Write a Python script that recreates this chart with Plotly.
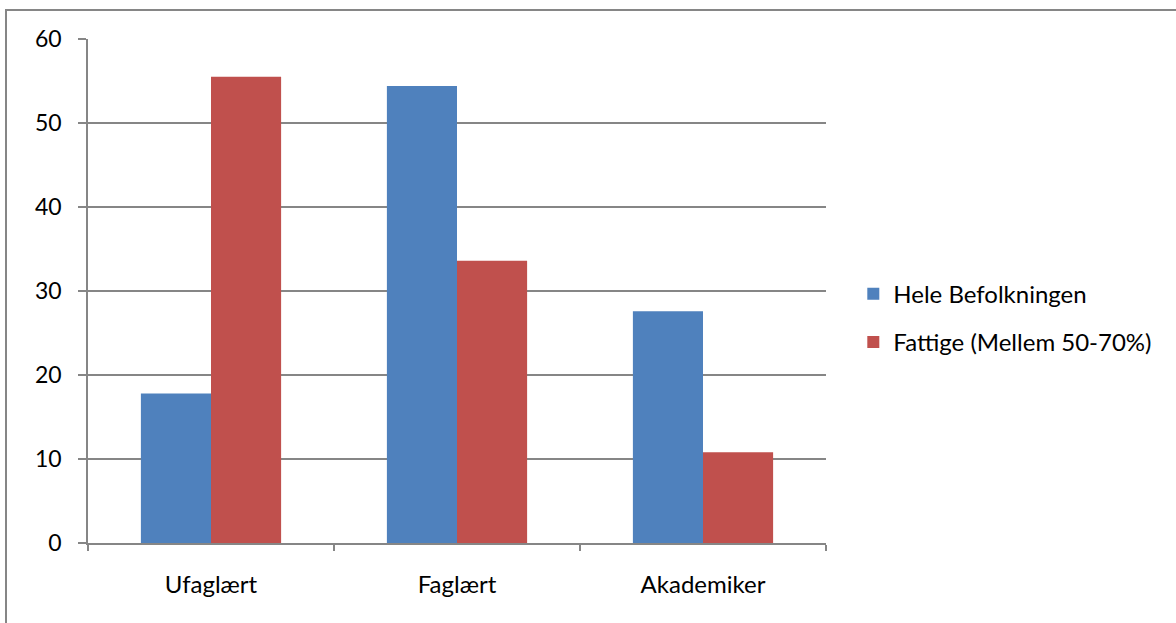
import plotly.graph_objects as go

categories = ["Ufaglært", "Faglært", "Akademiker"]
series_names = ["Hele Befolkningen", "Fattige (Mellem 50-70%)"]
hele = [17.8, 54.4, 27.6]
fattige = [55.5, 33.6, 10.8]
y_ticks = [0, 10, 20, 30, 40, 50, 60]

BLUE = "#4F81BD"
RED = "#C0504D"
GRID = "#868686"
FONT = "Lato"

fig = go.Figure()
fig.add_trace(go.Bar(x=categories, y=hele, name=series_names[0],
                     marker=dict(color=BLUE, line=dict(width=0)),
                     legendgroup="a"))
fig.add_trace(go.Bar(x=categories, y=fattige, name=series_names[1],
                     marker=dict(color=RED, line=dict(width=0)),
                     legendgroup="b"))

W, H = 1176, 623
L, R, T, B = 88, 826, 39, 543

fig.update_layout(
    width=W, height=H,
    margin=dict(l=L, r=W - R, t=T, b=H - B),
    paper_bgcolor="white", plot_bgcolor="white",
    barmode="group", bargap=0.43, bargroupgap=0,
    font=dict(family=FONT, size=24, color="#000000"),
    showlegend=True,
    legend=dict(x=1.037, xanchor="left", y=0.446, yanchor="middle",
                font=dict(family=FONT, size=24), tracegroupgap=14,
                itemwidth=30, bgcolor="rgba(0,0,0,0)"),
    xaxis=dict(showgrid=False, showline=True, linecolor=GRID, linewidth=1.5,
               ticks="outside", tickson="boundaries", ticklen=6,
               tickcolor=GRID, tickwidth=1.5, ticklabelstandoff=19,
               tickfont=dict(size=24), fixedrange=True),
    yaxis=dict(range=[0, 60], tickvals=y_ticks, showgrid=True,
               gridcolor=GRID, gridwidth=1.5, showline=True, linecolor=GRID,
               linewidth=1.5, ticks="outside", ticklen=8, tickcolor=GRID,
               tickwidth=1.5, zeroline=False, ticklabelstandoff=12,
               tickfont=dict(size=23), fixedrange=True),
)

# outer chart frame (top and left edges visible, rest cropped)
x0 = (6 - L) / (R - L)
y1 = (B - 10) / (B - T)
fig.add_shape(type="rect", xref="paper", yref="paper",
              x0=x0, x1=3, y0=-2, y1=y1,
              line=dict(color=GRID, width=2), layer="below")

fig.write_html("out.html",
               config={"displayModeBar": False},
               post_script="document.body.style.margin='0';")
